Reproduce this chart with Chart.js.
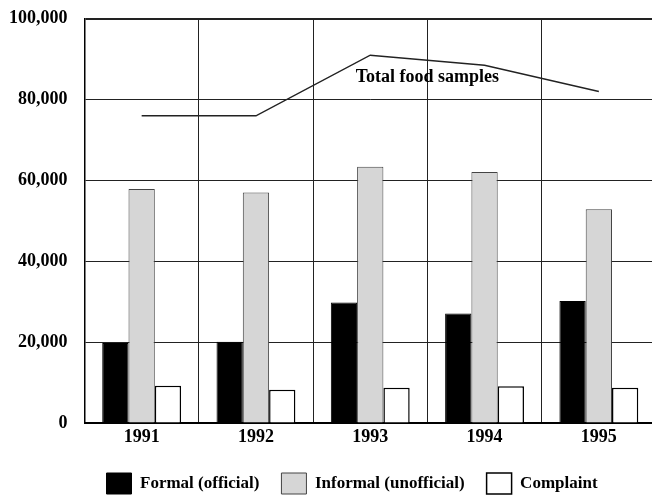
<!DOCTYPE html>
<html><head><meta charset="utf-8">
<script src="https://cdn.jsdelivr.net/npm/chart.js@4"></script>
<style>html,body{margin:0;padding:0;background:#fff;overflow:hidden}
#wrap{position:relative;width:656px;height:504px}</style>
</head><body><div id="wrap"><canvas id="c"></canvas></div>
<script>
const years = ['1991', '1992', '1993', '1994', '1995'];
const formal = [19800, 20100, 29800, 27100, 30200];
const informal = [57900, 57000, 63400, 62100, 52900];
const complaint = [9200, 8200, 8700, 9100, 8700];
const total = [76000, 76000, 91000, 88500, 82000];
const seriesNames = ['Formal (official)', 'Informal (unofficial)', 'Complaint', 'Total food samples'];
const yTicks = [0, 20000, 40000, 60000, 80000, 100000];

const SERIF = '"Liberation Serif", "Times New Roman", serif';

const lineLabelPlugin = {
  id: 'lineLabel',
  afterDatasetsDraw(chart) {
    const x = chart.scales.x, y = chart.scales.y, ctx = chart.ctx;
    ctx.save();
    ctx.font = 'bold 18px ' + SERIF;
    ctx.fillStyle = '#000';
    ctx.textAlign = 'center';
    ctx.textBaseline = 'middle';
    const px = (x.getPixelForValue(2) + x.getPixelForValue(3)) / 2;
    ctx.fillText(seriesNames[3], px, y.getPixelForValue(85500));
    ctx.restore();
  }
};

new Chart(document.getElementById('c'), {
  type: 'bar',
  data: {
    labels: years,
    datasets: [
      { label: seriesNames[0], data: formal, backgroundColor: '#000', borderColor: '#000', borderWidth: 1 },
      { label: seriesNames[1], data: informal, backgroundColor: '#d6d6d6', borderColor: '#444', borderWidth: 1 },
      { label: seriesNames[2], data: complaint, backgroundColor: '#fff', borderColor: '#000', borderWidth: 1.5 },
      { type: 'line', label: seriesNames[3], data: total, borderColor: '#222', borderWidth: 1.5,
        pointRadius: 0, fill: false, tension: 0 }
    ]
  },
  options: {
    responsive: true, maintainAspectRatio: false, animation: false, devicePixelRatio: 1,
    layout: { padding: { top: 0, left: -8, right: 0, bottom: 0 } },
    datasets: { bar: { categoryPercentage: 0.69, barPercentage: 1.0 } },
    plugins: {
      tooltip: { enabled: false },
      legend: {
        position: 'bottom', fullSize: false, align: 'start',
        labels: {
          boxWidth: 25, boxHeight: 21, padding: 22, color: '#000',
          font: { family: SERIF, weight: 'bold', size: 17 },
          filter: (item) => item.datasetIndex !== 3
        }
      }
    },
    scales: {
      x: {
        grid: { offset: true, color: '#222', lineWidth: 1, drawTicks: false },
        border: { display: true, color: '#000', width: 2 },
        ticks: { color: '#000', padding: 8.5, font: { family: SERIF, weight: 'bold', size: 18, lineHeight: 0.61 } }
      },
      y: {
        min: 0, max: 100000,
        afterBuildTicks: (s) => { s.ticks = yTicks.map(v => ({ value: v })); },
        grid: { color: '#222', lineWidth: (c) => (c.tick && c.tick.value === 100000 ? 2 : 1), drawTicks: false },
        border: { display: true, color: '#000', width: 1.5 },
        ticks: { color: '#000', padding: 17, font: { family: SERIF, weight: 'bold', size: 18, lineHeight: 0.2 },
          callback: (v) => v.toLocaleString('en-US') }
      }
    }
  },
  plugins: [lineLabelPlugin]
});
</script></body></html>
